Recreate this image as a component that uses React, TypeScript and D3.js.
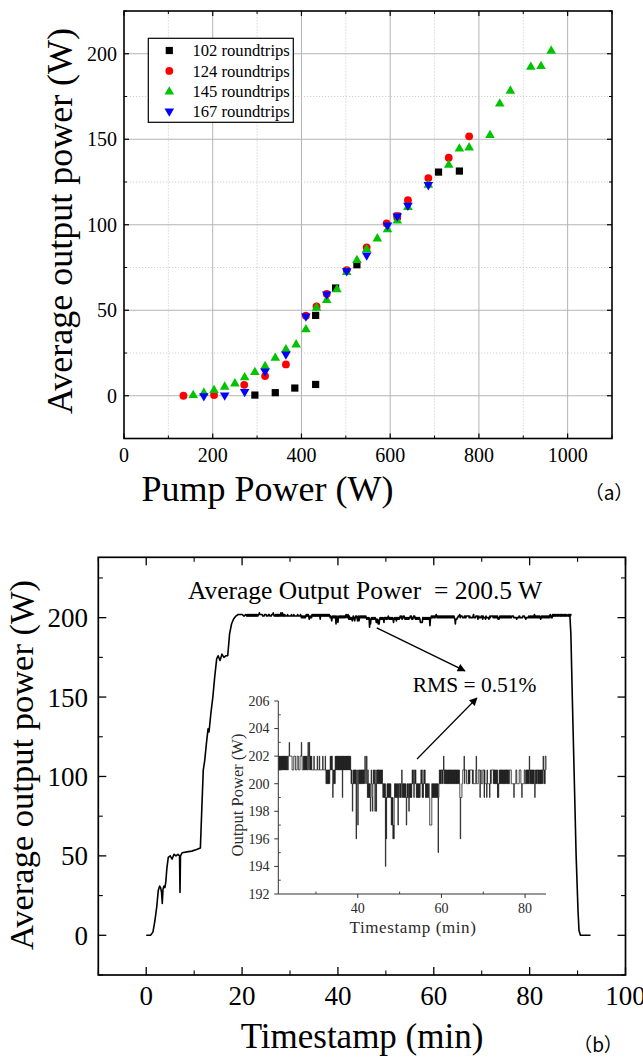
import React from "react";
import * as d3 from "d3";

// ---------- Panel (a) data ----------
const pumpTicks = [0, 200, 400, 600, 800, 1000];
const pumpMinor = [100, 300, 500, 700, 900, 1100];
const powerTicksA = [0, 50, 100, 150, 200];
const powerMinorA = [-25, 25, 75, 125, 175, 225];

const rt102Pump = [295, 341, 385, 432, 432, 477, 525, 616, 709, 756];
const rt102Power = [0.4, 1.8, 4.5, 6.6, 47, 63, 76.6, 105, 130.8, 131.4];

const rt124Pump = [134, 203, 271, 318, 365, 410, 434, 457, 502, 547, 592, 616, 640, 686, 732, 778];
const rt124Power = [0, 0.4, 6.4, 11.5, 18.3, 46.8, 52.2, 59.5, 73.5, 86.7, 100.8, 105, 114.4, 127.3, 139.2, 151.7];

const rt145Pump = [156, 180, 203, 227, 250, 272, 295, 318, 341, 365, 388, 410, 434, 457, 480, 502, 525, 547, 571, 594, 616, 640, 686, 732, 756, 778, 825, 847, 871, 917, 940, 963];
const rt145Power = [0.6, 2, 3.5, 5.5, 7.4, 11, 14, 17.5, 22.4, 27.3, 30.2, 39, 51.7, 56.1, 62.4, 72.5, 79.5, 85.8, 92.2, 97.5, 102.7, 110.5, 123.6, 135.3, 144.8, 145.4, 152.6, 171.1, 178.6, 192.6, 193, 202];

const rt167Pump = [180, 227, 272, 318, 365, 410, 457, 502, 547, 594, 616, 640, 686];
const rt167Power = [-0.5, 0, 2, 14, 24, 46.2, 59, 72.7, 81.9, 99.4, 104.7, 111, 123];

const seriesNames = ["102 roundtrips", "124 roundtrips", "145 roundtrips", "167 roundtrips"];
const seriesColors = ["#000000", "#ff0000", "#00c400", "#0000ff"];
const seriesShapes = ["square", "circle", "up", "down"];

// ---------- Panel (b) data ----------
const timeTicks = [0, 20, 40, 60, 80, 100];
const timeMinor = [-10, 10, 30, 50, 70, 90];
const powerTicksB = [0, 50, 100, 150, 200];
const powerMinorB = [-25, 25, 75, 125, 175, 225];

// ramp-up before the inset window (t, W)
const rampTime = [0, 0.9, 1.4, 1.8, 2.2, 2.5, 2.8, 3.0, 3.2, 3.35, 3.5, 3.7, 3.9, 4.1, 4.3, 4.6, 5.0, 5.4, 5.8, 6.2, 6.6, 6.95, 7.05, 7.15, 7.5, 8.5, 9.5, 10.5, 11.3, 11.6, 11.9, 12.2, 12.6, 12.9, 13.1, 13.5, 13.9, 14.3, 14.7, 15.0, 15.4, 15.8, 16.2, 16.6, 17.0, 17.4, 17.8, 18.2, 18.7, 19.2, 19.6, 20.0, 20.4, 20.8];
const rampPower = [0, 0, 2, 9, 18, 28, 31, 30, 27, 20, 29, 31, 30, 34, 42, 49, 50, 48, 51, 50, 51, 50, 27, 50, 52, 52.5, 53, 54, 55, 80, 104, 110, 122, 130, 128, 140, 150, 163, 174, 176, 173, 177, 175, 176, 176, 190, 196, 199, 201, 202, 202, 202, 201, 202];

// inset window 21.0 .. 85.0 min, 0.1 min per sample; digit = W - 194
const insetStart = 21;
const insetStep = 0.1;
const insetDigits = [
  "7878787878", "7878787878", "7877889888", "8887777888", "8777788877",
  "7788898777", "8787878787", "7987987878", "7777787777", "7778777787",
  "7777778777", "7787676767", "6767878787", "5676768787", "8787878787",
  "8785878787", "8787878787", "8787676467", "6767672676", "3676767676",
  "7676767876", "7865756565", "4676546767", "6467467676", "7676767676",
  "5656560525", "6565656565", "3535232565", "6565653656", "6565676565",
  "6565653565", "6546565656", "7676567676", "5656565656", "6767565676",
  "7656565656", "6533333656", "5656565656", "5615676767", "7676787676",
  "7676767676", "7676767676", "7676767676", "7676525556", "6777867777",
  "6666767677", "7777676666", "6678666677", "7756766667", "7757666657",
  "6666656767", "7777676767", "6767565676", "7676767676", "7676767676",
  "7667777666", "6665666677", "6666667777", "6656666677", "6676767676",
  "8767676767", "6765676767", "7676767676", "7678767688", "7",
].join("");

// after the inset window up to switch-off (85.1 .. 88.3)
const tailDigits = "878787787877878787877878787778787878";
const tailStart = 85.1;
const dropTime = [88.4, 88.6, 88.9, 89.3, 89.7, 90.1, 90.3, 90.6, 92.7];
const dropPower = [201, 190, 150, 100, 50, 15, 3, 0, 0];

const insetYTicks = [192, 194, 196, 198, 200, 202, 204, 206];
const insetYMinor = [193, 195, 197, 199, 201, 203, 205];
const insetXTicks = [40, 60, 80];
const insetXMinor = [30, 50, 70];

const FONT = "'Liberation Serif', 'Times New Roman', Times, serif";
const CJK = "'Noto Sans CJK SC', 'Liberation Serif', serif";

function Marker({ shape, x, y, color }: { shape: string; x: number; y: number; color: string }) {
  if (shape === "square") return <rect x={x - 3.6} y={y - 3.6} width={7.2} height={7.2} fill={color} />;
  if (shape === "circle") return <circle cx={x} cy={y} r={3.9} fill={color} />;
  if (shape === "up")
    return <path d={`M${x},${y - 5} L${x + 4.8},${y + 3.3} L${x - 4.8},${y + 3.3} Z`} fill={color} />;
  return <path d={`M${x},${y + 5} L${x + 4.8},${y - 3.3} L${x - 4.8},${y - 3.3} Z`} fill={color} />;
}

const T = (props: any) => <text {...props} style={{ fontFamily: FONT, ...(props.style || {}) }} />;

export default function App() {
  // Panel (a) scales
  const ax = d3.scaleLinear().domain([0, 1100]).range([124, 612]);
  const ay = d3.scaleLinear().domain([-25, 225]).range([438.5, 11]);
  // Panel (b) scales
  const bx = d3.scaleLinear().domain([-10, 100]).range([98.3, 625.5]);
  const by = d3.scaleLinear().domain([-25, 238]).range([975, 557.3]);
  // Inset scales
  const ix = d3.scaleLinear().domain([21, 85]).range([278.3, 546]);
  const iy = d3.scaleLinear().domain([192, 206]).range([894, 701]);

  const seriesPump = [rt102Pump, rt124Pump, rt145Pump, rt167Pump];
  const seriesPower = [rt102Power, rt124Power, rt145Power, rt167Power];

  const insetPts: [number, number][] = insetDigits
    .split("")
    .map((c, i) => [insetStart + i * insetStep, 194 + Number(c)]);
  const tailPts: [number, number][] = tailDigits
    .split("")
    .map((c, i) => [tailStart + i * insetStep, 194 + Number(c)]);
  const rampPts: [number, number][] = rampTime.map((t, i) => [t, rampPower[i]]);
  const dropPts: [number, number][] = dropTime.map((t, i) => [t, dropPower[i]]);
  const fullPts = [...rampPts, ...insetPts, ...tailPts, ...dropPts];

  const mainLine = d3
    .line<[number, number]>()
    .x((d) => bx(d[0]))
    .y((d) => by(d[1]));
  const insetLine = d3
    .line<[number, number]>()
    .x((d) => ix(d[0]))
    .y((d) => iy(d[1]))
    .curve(d3.curveStepAfter);

  const [ax0, ax1] = ax.range();
  const [ay0, ay1] = ay.range();
  const [bx0, bx1] = bx.range();
  const [by0, by1] = by.range();

  return (
    <svg
      width={643}
      height={1061}
      style={{ position: "absolute", left: 0, top: 0, background: "#fff" }}
    >
      <defs>
        <marker id="arr" viewBox="0 0 10 10" refX="9" refY="5" markerWidth="11" markerHeight="8" markerUnits="userSpaceOnUse" orient="auto">
          <path d="M0,0 L10,5 L0,10 Z" fill="#000" />
        </marker>
      </defs>
      <rect x={0} y={0} width={643} height={1061} fill="#fff" />

      {/* ================= Panel (a) ================= */}
      {pumpMinor.filter((v) => v < 1100).map((v) => (
        <line key={"gxm" + v} x1={ax(v)} x2={ax(v)} y1={ay0} y2={ay1} stroke="#c4c4c4" strokeWidth={0.8} strokeDasharray="1.2,1.8" />
      ))}
      {powerMinorA.filter((v) => v > -25 && v < 225).map((v) => (
        <line key={"gym" + v} x1={ax0} x2={ax1} y1={ay(v)} y2={ay(v)} stroke="#c4c4c4" strokeWidth={0.8} strokeDasharray="1.2,1.8" />
      ))}
      {pumpTicks.filter((v) => v > 0).map((v) => (
        <line key={"gx" + v} x1={ax(v)} x2={ax(v)} y1={ay0} y2={ay1} stroke="#b4b4b4" strokeWidth={1} />
      ))}
      {powerTicksA.map((v) => (
        <line key={"gy" + v} x1={ax0} x2={ax1} y1={ay(v)} y2={ay(v)} stroke="#b4b4b4" strokeWidth={1} />
      ))}
      {pumpTicks.map((v) => (
        <g key={"tx" + v}>
          <line x1={ax(v)} x2={ax(v)} y1={ay0} y2={ay0 - 5} stroke="#000" strokeWidth={1.2} />
          <line x1={ax(v)} x2={ax(v)} y1={ay1} y2={ay1 + 5} stroke="#000" strokeWidth={1.2} />
          <T x={ax(v)} y={461.5} fontSize={20} textAnchor="middle">{v}</T>
        </g>
      ))}
      {pumpMinor.map((v) => (
        <g key={"txm" + v}>
          <line x1={ax(v)} x2={ax(v)} y1={ay0} y2={ay0 - 3} stroke="#000" strokeWidth={1} />
          <line x1={ax(v)} x2={ax(v)} y1={ay1} y2={ay1 + 3} stroke="#000" strokeWidth={1} />
        </g>
      ))}
      {powerTicksA.map((v) => (
        <g key={"ty" + v}>
          <line x1={ax0} x2={ax0 + 5} y1={ay(v)} y2={ay(v)} stroke="#000" strokeWidth={1.2} />
          <line x1={ax1} x2={ax1 - 5} y1={ay(v)} y2={ay(v)} stroke="#000" strokeWidth={1.2} />
          <T x={117} y={ay(v)} dy="0.35em" fontSize={20} textAnchor="end">{v}</T>
        </g>
      ))}
      {powerMinorA.map((v) => (
        <g key={"tym" + v}>
          <line x1={ax0} x2={ax0 + 3} y1={ay(v)} y2={ay(v)} stroke="#000" strokeWidth={1} />
          <line x1={ax1} x2={ax1 - 3} y1={ay(v)} y2={ay(v)} stroke="#000" strokeWidth={1} />
        </g>
      ))}
      <rect x={ax0} y={ay1} width={ax1 - ax0} height={ay0 - ay1} fill="none" stroke="#000" strokeWidth={1.6} />

      {seriesPump.map((pumps, si) =>
        pumps.map((p, i) => (
          <Marker key={`m${si}-${i}`} shape={seriesShapes[si]} x={ax(p)} y={ay(seriesPower[si][i])} color={seriesColors[si]} />
        ))
      )}

      {/* legend */}
      <rect x={148.3} y={38.3} width={145} height={84} fill="#fff" stroke="#000" strokeWidth={1.2} />
      {seriesNames.map((n, i) => (
        <g key={"lg" + i}>
          <Marker shape={seriesShapes[i]} x={169.3} y={50.5 + i * 20.4} color={seriesColors[i]} />
          <T x={192.5} y={50.5 + i * 20.4} dy="0.34em" fontSize={16.6}>{n}</T>
        </g>
      ))}

      <T transform="translate(72,221) rotate(-90)" textAnchor="middle" fontSize={36}>Average output power (W)</T>
      <T x={267.5} y={501} textAnchor="middle" fontSize={36}>Pump Power (W)</T>
      <text x={609} y={500} textAnchor="middle" fontSize={19} style={{ fontFamily: CJK }}>（a）</text>

      {/* ================= Panel (b) ================= */}
      {timeTicks.map((v) => (
        <g key={"btx" + v}>
          <line x1={bx(v)} x2={bx(v)} y1={by0} y2={by0 - 8} stroke="#000" strokeWidth={1.3} />
          <line x1={bx(v)} x2={bx(v)} y1={by1} y2={by1 + 8} stroke="#000" strokeWidth={1.3} />
          <T x={bx(v)} y={1004.5} fontSize={27} textAnchor="middle">{v}</T>
        </g>
      ))}
      {timeMinor.map((v) => (
        <g key={"btxm" + v}>
          <line x1={bx(v)} x2={bx(v)} y1={by0} y2={by0 - 4.5} stroke="#000" strokeWidth={1.1} />
          <line x1={bx(v)} x2={bx(v)} y1={by1} y2={by1 + 4.5} stroke="#000" strokeWidth={1.1} />
        </g>
      ))}
      {powerTicksB.map((v) => (
        <g key={"bty" + v}>
          <line x1={bx0} x2={bx0 + 8} y1={by(v)} y2={by(v)} stroke="#000" strokeWidth={1.3} />
          <line x1={bx1} x2={bx1 - 8} y1={by(v)} y2={by(v)} stroke="#000" strokeWidth={1.3} />
          <T x={88} y={by(v)} dy="0.35em" fontSize={27} textAnchor="end">{v}</T>
        </g>
      ))}
      {powerMinorB.map((v) => (
        <g key={"btym" + v}>
          <line x1={bx0} x2={bx0 + 4.5} y1={by(v)} y2={by(v)} stroke="#000" strokeWidth={1.1} />
          <line x1={bx1} x2={bx1 - 4.5} y1={by(v)} y2={by(v)} stroke="#000" strokeWidth={1.1} />
        </g>
      ))}
      <rect x={bx0} y={by1} width={bx1 - bx0} height={by0 - by1} fill="none" stroke="#000" strokeWidth={1.7} />

      <path d={mainLine(fullPts) || ""} fill="none" stroke="#000" strokeWidth={1.6} strokeLinejoin="round" />

      {/* annotations */}
      <T x={bx(8.7)} y={by(211.9)} fontSize={25.5} style={{ whiteSpace: "pre" }}>Average Output Power  = 200.5 W</T>
      <line x1={bx(48.1)} y1={by(193.6)} x2={bx(66.5)} y2={by(166.5)} stroke="#000" strokeWidth={1.4} markerEnd="url(#arr)" />
      <T x={bx(55.6)} y={by(153.4)} fontSize={21.5}>RMS = 0.51%</T>
      <line x1={bx(56.5)} y1={by(111)} x2={bx(69)} y2={by(149.4)} stroke="#000" strokeWidth={1.2} markerEnd="url(#arr)" />

      {/* inset */}
      <path d={insetLine(insetPts) || ""} fill="none" stroke="#111" strokeWidth={0.75} />
      <line x1={ix(21)} x2={ix(21)} y1={iy(192)} y2={iy(206)} stroke="#333" strokeWidth={1} />
      <line x1={ix(21)} x2={ix(85)} y1={iy(192)} y2={iy(192)} stroke="#333" strokeWidth={1} />
      {insetYTicks.map((v) => (
        <g key={"iyt" + v}>
          <line x1={ix(21)} x2={ix(21) - 4} y1={iy(v)} y2={iy(v)} stroke="#333" strokeWidth={1} />
          <T x={269.5} y={iy(v)} dy="0.35em" fontSize={14} textAnchor="end" fill="#2a2a2a">{v}</T>
        </g>
      ))}
      {insetYMinor.map((v) => (
        <line key={"iym" + v} x1={ix(21)} x2={ix(21) + 2.5} y1={iy(v)} y2={iy(v)} stroke="#333" strokeWidth={0.9} />
      ))}
      {insetXTicks.map((v) => (
        <g key={"ixt" + v}>
          <line x1={ix(v)} x2={ix(v)} y1={iy(192)} y2={iy(192) + 4} stroke="#333" strokeWidth={1} />
          <T x={ix(v)} y={913} fontSize={14} textAnchor="middle" fill="#2a2a2a">{v}</T>
        </g>
      ))}
      {insetXMinor.map((v) => (
        <line key={"ixm" + v} x1={ix(v)} x2={ix(v)} y1={iy(192)} y2={iy(192) - 2.5} stroke="#333" strokeWidth={0.9} />
      ))}
      <T x={413} y={932.5} fontSize={17} textAnchor="middle" fill="#2a2a2a" letterSpacing={0.6}>Timestamp (min)</T>
      <T transform="translate(242.5,795) rotate(-90)" fontSize={16.5} textAnchor="middle" fill="#2a2a2a">Output Power (W)</T>

      <T transform="translate(33,765) rotate(-90)" textAnchor="middle" fontSize={34.5}>Average output power (W)</T>
      <T x={362} y={1048} textAnchor="middle" fontSize={35}>Timestamp (min)</T>
      <text x={598} y={1052} textAnchor="middle" fontSize={19} style={{ fontFamily: CJK }}>（b）</text>
    </svg>
  );
}
